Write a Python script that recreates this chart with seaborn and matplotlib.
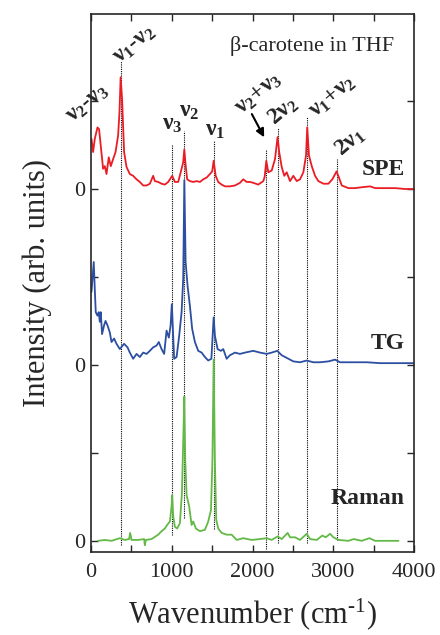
import pandas as pd
import seaborn as sns
import matplotlib.pyplot as plt
from matplotlib.ticker import MultipleLocator, FixedLocator

# SPE spectrum (wavenumber, intensity above its own baseline)
spe_wn = [5, 25, 46, 79, 99, 120, 149, 170, 191, 219, 244, 273, 303, 335, 352, 366, 384, 409, 439, 480,
          521, 563, 604, 645, 687, 728, 769, 790, 831, 873, 914, 955, 1005, 1038, 1079, 1121, 1140, 1155,
          1170, 1190, 1224, 1265, 1307, 1348, 1389, 1431, 1472, 1500, 1518, 1543, 1575, 1617, 1658, 1720,
          1782, 1844, 1885, 1927, 1968, 2010, 2071, 2133, 2150, 2170, 2195, 2237, 2278, 2310, 2330, 2361,
          2393, 2423, 2464, 2505, 2547, 2588, 2629, 2662, 2677, 2699, 2733, 2774, 2815, 2877, 2939, 2988,
          3040, 3070, 3105, 3187, 3270, 3353, 3456, 3518, 3642, 3766, 3890, 3995]
spe_int = [0.57, 0.42, 0.57, 0.70, 0.68, 0.49, 0.23, 0.26, 0.17, 0.36, 0.26, 0.34, 0.42, 0.61, 0.88, 1.27,
           1.02, 0.42, 0.25, 0.17, 0.15, 0.11, 0.08, 0.04, 0.04, 0.06, 0.15, 0.09, 0.08, 0.06, 0.05, 0.08,
           0.15, 0.08, 0.08, 0.23, 0.30, 0.45, 0.28, 0.11, 0.09, 0.08, 0.09, 0.08, 0.11, 0.13, 0.17, 0.20,
           0.32, 0.15, 0.08, 0.05, 0.03, 0.03, 0.04, 0.07, 0.11, 0.08, 0.08, 0.07, 0.05, 0.09, 0.14, 0.32,
           0.19, 0.21, 0.34, 0.59, 0.42, 0.25, 0.15, 0.19, 0.09, 0.15, 0.09, 0.11, 0.19, 0.38, 0.70, 0.38,
           0.26, 0.15, 0.09, 0.06, 0.06, 0.11, 0.20, 0.13, 0.04, 0.01, 0.01, 0.02, 0.03, 0.01, 0.01, 0.01,
           0.00, 0.00]

# TG spectrum
tg_wn = [5, 33, 46, 58, 79, 95, 108, 120, 136, 161, 179, 203, 232, 253, 285, 315, 356, 409, 451, 480,
         521, 563, 604, 645, 687, 728, 769, 811, 839, 873, 905, 935, 963, 985, 1000, 1029, 1059, 1091,
         1121, 1141, 1155, 1171, 1195, 1224, 1252, 1286, 1327, 1369, 1410, 1451, 1490, 1518, 1534, 1567,
         1608, 1637, 1679, 1720, 1782, 1844, 1906, 2009, 2092, 2175, 2237, 2306, 2361, 2423, 2505, 2588,
         2671, 2753, 2836, 2939, 3022, 3084, 3167, 3291, 3415, 3580, 3787, 3995]
tg_int = [0.83, 1.17, 0.86, 0.60, 0.56, 0.60, 0.49, 0.60, 0.35, 0.45, 0.50, 0.45, 0.37, 0.26, 0.30, 0.24,
          0.18, 0.24, 0.20, 0.14, 0.07, 0.125, 0.09, 0.14, 0.125, 0.16, 0.20, 0.22, 0.26, 0.18, 0.125, 0.39,
          0.31, 0.45, 0.69, 0.07, 0.09, 0.33, 0.60, 0.98, 2.10, 1.17, 0.90, 0.67, 0.41, 0.26, 0.16, 0.14,
          0.09, 0.05, 0.07, 0.54, 0.33, 0.18, 0.16, 0.18, 0.07, 0.11, 0.14, 0.125, 0.14, 0.16, 0.14, 0.125,
          0.14, 0.16, 0.11, 0.08, 0.04, 0.03, 0.05, 0.03, 0.03, 0.04, 0.06, 0.03, 0.03, 0.03, 0.03, 0.02,
          0.02, 0.02]

# Raman spectrum
raman_wn = [87, 170, 253, 356, 418, 471, 484, 501, 583, 657, 666, 678, 749, 831, 873, 914, 942, 976, 997,
            1005, 1017, 1038, 1066, 1100, 1125, 1143, 1155, 1166, 1183, 1215, 1245, 1265, 1298, 1348, 1410,
            1451, 1485, 1503, 1518, 1533, 1550, 1575, 1617, 1679, 1741, 1803, 1885, 1989, 2092, 2175, 2237,
            2311, 2361, 2435, 2464, 2526, 2588, 2671, 2712, 2795, 2864, 2907, 2960, 3001, 3063, 3187, 3254,
            3353, 3447, 3518, 3642, 3807]
raman_int = [0.00, 0.01, 0.00, 0.03, 0.01, 0.02, 0.09, 0.01, 0.01, 0.02, -0.05, 0.01, 0.02, 0.07, 0.11,
             0.14, 0.18, 0.22, 0.39, 0.52, 0.28, 0.16, 0.14, 0.20, 0.54, 1.19, 1.64, 0.92, 0.52, 0.39, 0.18,
             0.22, 0.14, 0.11, 0.125, 0.22, 0.35, 0.92, 2.06, 0.92, 0.24, 0.14, 0.09, 0.07, 0.07, 0.01, 0.03,
             0.01, 0.02, 0.03, 0.01, 0.05, 0.02, 0.09, 0.04, 0.04, 0.01, 0.08, 0.02, 0.01, 0.06, 0.04, 0.08,
             0.04, 0.01, 0.00, 0.02, 0.00, 0.03, 0.00, 0.00, 0.00]

offsets = {'Raman': 0.0, 'TG': 2.0, 'SPE': 4.0}
colors = {'Raman': '#63b946', 'TG': '#2c4fa2', 'SPE': '#ec1c24'}

# assigned modes: dotted guide lines
peak_pos = [366, 1005, 1155, 1518, 2170, 2310, 2677, 3040]
line_top = [5.45, 4.50, 4.66, 4.55, 4.44, 4.69, 4.82, 4.34]
line_bottom = [-0.05, 0.07, 0.26, 0.14, -0.09, -0.02, -0.02, 0.01]

# peak labels: text, x, y, rotation
peak_labels = [
    (r'$\mathbf{\nu_2}$-$\mathbf{\nu_3}$', -40, 4.97, 40),
    (r'$\mathbf{\nu_1}$-$\mathbf{\nu_2}$', 540, 5.64, 40),
    (r'$\mathbf{\nu_3}$', 1000, 4.73, 0),
    (r'$\mathbf{\nu_2}$', 1210, 4.88, 0),
    (r'$\mathbf{\nu_1}$', 1540, 4.67, 0),
    (r'$\mathbf{\nu_2}$+$\mathbf{\nu_3}$', 2080, 5.08, 40),
    (r'$\mathbf{2\nu_2}$', 2380, 4.89, 40),
    (r'$\mathbf{\nu_1}$+$\mathbf{\nu_2}$', 2990, 5.05, 40),
    (r'$\mathbf{2\nu_1}$', 3210, 4.53, 40),
]

sns.set_style('ticks')
plt.rcParams['font.family'] = ['Liberation Serif', 'DejaVu Serif']
plt.rcParams['mathtext.fontset'] = 'custom'
plt.rcParams['mathtext.rm'] = 'Liberation Serif'
plt.rcParams['mathtext.it'] = 'Liberation Serif:italic'
plt.rcParams['mathtext.bf'] = 'Liberation Serif:bold'

frames = []
for name, wn, inten in [('Raman', raman_wn, raman_int), ('TG', tg_wn, tg_int), ('SPE', spe_wn, spe_int)]:
    part = pd.DataFrame({'wavenumber': wn, 'intensity': inten})
    part['intensity'] = part['intensity'] + offsets[name]
    part['spectrum'] = name
    frames.append(part)
df = pd.concat(frames, ignore_index=True)

fig = plt.figure(figsize=(4.4, 6.35), dpi=100)
ax = fig.add_axes([0.207, 0.131, 0.734, 0.847])

ax.vlines(peak_pos, line_bottom, line_top, colors='black', linestyles=(0, (1, 1)), linewidth=0.8, zorder=1)

sns.lineplot(data=df, x='wavenumber', y='intensity', hue='spectrum', hue_order=['Raman', 'TG', 'SPE'],
             palette=colors, estimator=None, sort=False, linewidth=1.3, legend=False, ax=ax, zorder=2)

for text, x, y, rot in peak_labels:
    ax.text(x, y, text, fontsize=17, fontweight='bold', rotation=rot, ha='center', va='center',
            rotation_mode='anchor', clip_on=False)

ax.annotate('', xy=(2160, 4.56), xytext=(1975, 4.88),
            arrowprops=dict(arrowstyle='-|>', color='black', lw=1.5, mutation_scale=12))

ax.text(0.938, 0.94, 'β-carotene in THF', transform=ax.transAxes, fontsize=16, ha='right', va='center')
for name, y in [('SPE', 4.22), ('TG', 2.24), ('Raman', 0.48)]:
    ax.text(0.972, y, name, transform=ax.get_yaxis_transform(), fontsize=17, fontweight='bold',
            ha='right', va='center')

ax.set_xlim(0, 4000)
ax.set_ylim(-0.125, 5.99)
ax.xaxis.set_major_locator(MultipleLocator(1000))
ax.xaxis.set_minor_locator(MultipleLocator(500))
ax.yaxis.set_major_locator(FixedLocator([0, 2, 4]))
ax.yaxis.set_minor_locator(FixedLocator([1, 3, 5]))
ax.set_yticklabels(['0', '0', '0'])
ax.tick_params(which='both', direction='in', top=True, right=True, length=5, width=1)
ax.tick_params(axis='x', labelsize=16, pad=8)
ax.tick_params(axis='y', labelsize=16, pad=4)
for s in ax.spines.values():
    s.set_linewidth(1.2)

ax.set_xlabel(r'Wavenumber (cm$^{\text{-}1}$)', fontsize=22, labelpad=10)
ax.set_ylabel('Intensity (arb. units)', fontsize=22, labelpad=16)

fig.savefig('out.png', dpi=100)
